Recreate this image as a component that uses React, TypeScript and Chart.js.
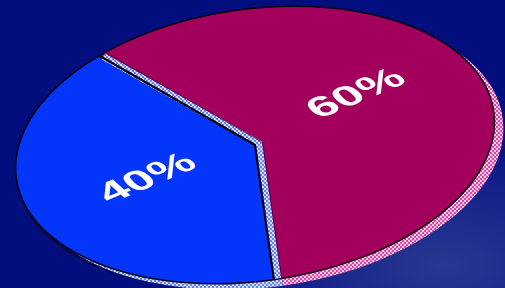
import React, { useEffect, useRef } from 'react';
import { Chart, registerables } from 'chart.js';

Chart.register(...registerables);

const categories = ['Share A', 'Share B'];
const shares = [60, 40];
const valueLabels = ['60%', '40%'];
const sliceColors = ['#a3005e', '#0336fa'];
const rimColorsA = ['#d94aa3', '#6482f2'];
const rimColorsB = ['#f9c6ea', '#d2dcff'];

const VIEW = {
  cx: 255,
  cy: 145,
  semiX: 241,
  semiY: 136,
  tiltDeg: -8,
  rimDx: 9,
  rimDy: 6,
  textDeg: -25,
  labelRadius: [0.52, 0.48],
  labelNudgeDeg: [-12.7, 1.5],
  fontSize: 31,
};

function makePattern(ctx: CanvasRenderingContext2D, a: string, b: string) {
  const c = document.createElement('canvas');
  c.width = 4;
  c.height = 4;
  const g = c.getContext('2d')!;
  g.fillStyle = a;
  g.fillRect(0, 0, 4, 4);
  g.fillStyle = b;
  g.fillRect(0, 0, 2, 2);
  g.fillRect(2, 2, 2, 2);
  return ctx.createPattern(c, 'repeat')!;
}

function viewMatrix(ref: any, dx = 0, dy = 0) {
  const sx = VIEW.semiX / ref.outerRadius;
  const sy = VIEW.semiY / ref.outerRadius;
  return new DOMMatrix()
    .translate(VIEW.cx + dx, VIEW.cy + dy)
    .rotate(VIEW.tiltDeg)
    .scale(sx, sy)
    .translate(-ref.x, -ref.y);
}

function applyM(ctx: CanvasRenderingContext2D, m: DOMMatrix) {
  ctx.transform(m.a, m.b, m.c, m.d, m.e, m.f);
}

function slicePath(ctx: CanvasRenderingContext2D, arc: any) {
  ctx.moveTo(arc.x, arc.y);
  ctx.arc(arc.x, arc.y, arc.outerRadius, arc.startAngle, arc.endAngle);
  ctx.closePath();
}

const tiltPlugin = {
  id: 'tiltPie',
  beforeDatasetsDraw(chart: any) {
    const ctx: CanvasRenderingContext2D = chart.ctx;
    const arcs = chart.getDatasetMeta(0).data;
    const ref = arcs[0];
    if (!chart.$patterns) {
      chart.$patterns = rimColorsA.map((a, i) => makePattern(ctx, a, rimColorsB[i]));
    }
    // soft dark shadow below the disc
    ctx.save();
    applyM(ctx, viewMatrix(ref, 1, 5));
    ctx.beginPath();
    ctx.arc(ref.x, ref.y, ref.outerRadius, 0, Math.PI * 2);
    ctx.restore();
    ctx.fillStyle = 'rgba(5,5,30,0.45)';
    ctx.fill();
    // extruded rim
    const mr = viewMatrix(ref, VIEW.rimDx, VIEW.rimDy);
    arcs.forEach((arc: any, i: number) => {
      ctx.save();
      applyM(ctx, mr);
      ctx.beginPath();
      slicePath(ctx, arc);
      ctx.restore();
      ctx.fillStyle = chart.$patterns[i];
      ctx.fill();
    });
    ctx.save();
    applyM(ctx, viewMatrix(ref));
  },
  afterDatasetsDraw(chart: any) {
    const ctx: CanvasRenderingContext2D = chart.ctx;
    ctx.restore();
    const arcs = chart.getDatasetMeta(0).data;
    const ref = arcs[0];
    const m = viewMatrix(ref);
    // outer outline
    ctx.save();
    applyM(ctx, m);
    ctx.beginPath();
    ctx.arc(ref.x, ref.y, ref.outerRadius, 0, Math.PI * 2);
    ctx.restore();
    ctx.strokeStyle = '#0a0010';
    ctx.lineWidth = 1.6;
    ctx.stroke();

    // separator band along the blue slice's radii
    const blue = arcs[1];
    const pt = (ang: number, r: number) =>
      m.transformPoint(new DOMPoint(blue.x + r * Math.cos(ang), blue.y + r * Math.sin(ang)));
    const c = pt(0, 0);
    const p1 = pt(blue.startAngle, blue.outerRadius);
    const p2 = pt(blue.endAngle, blue.outerRadius);
    const mid = (blue.startAngle + blue.endAngle) / 2;
    const pm = pt(mid, blue.outerRadius);
    const vx = c.x - pm.x;
    const vy = c.y - pm.y;
    const vl = Math.hypot(vx, vy);
    const sh = 4;
    const ox = (vx / vl) * sh;
    const oy = (vy / vl) * sh;
    ctx.save();
    ctx.lineJoin = 'miter';
    ctx.beginPath();
    ctx.moveTo(p1.x + ox, p1.y + oy);
    ctx.lineTo(c.x + ox, c.y + oy);
    ctx.lineTo(p2.x + ox, p2.y + oy + 2);
    ctx.strokeStyle = chart.$patterns[1];
    ctx.lineWidth = 7;
    ctx.stroke();
    ctx.beginPath();
    ctx.moveTo(p1.x + 2 * ox, p1.y + 2 * oy);
    ctx.lineTo(c.x + 2 * ox, c.y + 2 * oy);
    ctx.lineTo(p2.x + 2 * ox, p2.y + 2 * oy);
    ctx.strokeStyle = 'rgba(30,0,40,0.6)';
    ctx.lineWidth = 1;
    ctx.stroke();
    ctx.beginPath();
    ctx.moveTo(p1.x, p1.y);
    ctx.lineTo(c.x, c.y);
    ctx.lineTo(p2.x, p2.y);
    ctx.strokeStyle = '#05000a';
    ctx.lineWidth = 2.2;
    ctx.stroke();
    ctx.restore();

    // value labels lying in the pie plane
    arcs.forEach((arc: any, i: number) => {
      const a = (arc.startAngle + arc.endAngle) / 2 + (VIEW.labelNudgeDeg[i] * Math.PI) / 180;
      const r = arc.outerRadius * VIEW.labelRadius[i];
      ctx.save();
      applyM(ctx, m);
      ctx.translate(arc.x + r * Math.cos(a), arc.y + r * Math.sin(a));
      ctx.rotate((VIEW.textDeg * Math.PI) / 180);
      ctx.font = `bold ${VIEW.fontSize}px "Liberation Sans", Arial, sans-serif`;
      ctx.textAlign = 'center';
      ctx.textBaseline = 'middle';
      ctx.fillStyle = '#ffffff';
      ctx.fillText(valueLabels[i], 0, 0);
      ctx.restore();
    });
  },
};

export default function App() {
  const ref = useRef<HTMLCanvasElement>(null);
  useEffect(() => {
    const chart = new Chart(ref.current!, {
      type: 'pie',
      data: {
        labels: categories,
        datasets: [
          {
            data: shares,
            backgroundColor: sliceColors,
            borderWidth: 0,
            clip: false as any,
          },
        ],
      },
      options: {
        responsive: false,
        animation: false,
        rotation: -36,
        events: [],
        layout: { padding: 0 },
        plugins: { legend: { display: false }, tooltip: { enabled: false } },
      },
      plugins: [tiltPlugin as any],
    });
    return () => chart.destroy();
  }, []);
  return (
    <div
      style={{
        position: 'fixed',
        left: 0,
        top: 0,
        width: 505,
        height: 288,
        background:
          'radial-gradient(ellipse 55% 50% at 88% 92%, #28388f 0%, #16248a 50%, rgba(2,14,126,0) 100%), #020e7e',
      }}
    >
      <canvas ref={ref} width={505} height={288} style={{ display: 'block' }} />
    </div>
  );
}
